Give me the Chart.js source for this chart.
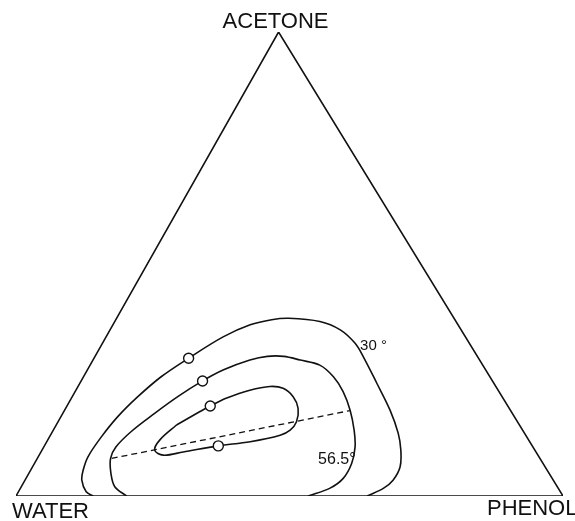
<!DOCTYPE html>
<html>
<head>
<meta charset="utf-8">
<script src="https://cdn.jsdelivr.net/npm/chart.js@4/dist/chart.umd.min.js"></script>
<style>
  body { margin: 0; background: #fff; }
  canvas { display: block; }
</style>
</head>
<body>
<canvas id="diagram" width="575" height="521"></canvas>
<script>
// compositions in %, as [acetone, phenol]; water is whatever is left
var curve30 = [
  [0, 14.1], [0.9, 12.4], [3.4, 10.4], [5.6, 9.6], [8.5, 9.1], [12.8, 9.5], [17.1, 10.4],
  [21.4, 12.0], [25.7, 14.2], [29.7, 17.3], [34.3, 21.4], [36.9, 25.1], [38.0, 28.5],
  [38.3, 31.5], [37.6, 37.5], [35.8, 42.1], [32.9, 46.2], [30.0, 49.1], [24.3, 54.3],
  [18.5, 59.5], [13.5, 63.4], [9.9, 65.6], [6.3, 67.2], [3.4, 67.3], [1.7, 66.4], [0, 64.2]
];
var curve565 = [
  [0, 20.2], [2.0, 17.1], [4.9, 15.0], [8.1, 13.4], [10.6, 13.2], [13.9, 14.4], [17.8, 16.8],
  [21.4, 19.3], [24.8, 22.2], [27.2, 24.9], [29.3, 28.7], [30.1, 31.5], [30.1, 34.5],
  [29.3, 37.9], [28.2, 42.0], [25.7, 45.7], [22.5, 49.0], [18.5, 52.2], [14.2, 55.0],
  [10.6, 56.9], [7.0, 58.0], [3.8, 58.0], [1.7, 56.6], [0, 53.4]
];
// closed loop, starts and ends on the upper straight side
var curveInner = [
  [15.3, 22.0], [18.2, 24.9], [19.4, 26.2], [21.1, 28.4], [22.8, 31.8], [23.6, 35.1],
  [23.2, 37.7], [21.4, 40.4], [18.9, 42.5], [16.0, 43.6], [14.2, 43.3], [13.1, 42.0],
  [11.7, 37.2], [10.8, 31.8], [9.5, 26.0], [8.8, 22.7], [9.9, 20.6], [12.1, 20.5], [15.3, 22.0]
];
var measured = [[29.7, 17.3], [24.8, 22.2], [19.4, 26.2], [10.8, 31.8]];
var tieLine = [[8.1, 13.6], [18.4, 52.2]];
var components = ['ACETONE', 'WATER', 'PHENOL'];
var tempLabels = ['30 °', '56.5°'];

// acetone corner sits a bit left of the middle of the base
var APEX_X = 48;

function toPlot(c) {
  return { x: c[1] + c[0] * APEX_X / 100, y: c[0] };
}
function toPoints(list) {
  return list.map(toPlot);
}

var triangle = toPoints([[0, 0], [0, 100], [100, 0], [0, 0]]);

function curveSet(list) {
  return {
    data: toPoints(list),
    showLine: true,
    borderColor: '#111',
    borderWidth: 1.6,
    pointRadius: 0,
    tension: 0.35,
    fill: false
  };
}

var labels = {
  id: 'labels',
  afterDatasetsDraw: function (chart) {
    var ctx = chart.ctx;
    var sx = chart.scales.x, sy = chart.scales.y;
    function px(c) {
      var p = toPlot(c);
      return [sx.getPixelForValue(p.x), sy.getPixelForValue(p.y)];
    }
    ctx.save();
    ctx.fillStyle = '#111';
    ctx.textBaseline = 'alphabetic';

    ctx.font = '22px "Liberation Sans", Arial, sans-serif';
    var a = px([100, 0]);
    ctx.textAlign = 'center';
    ctx.fillText(components[0], a[0] - 3, a[1] - 4);
    var w = px([0, 0]);
    ctx.textAlign = 'left';
    ctx.fillText(components[1], w[0] - 4, w[1] + 22);
    var p = px([0, 100]);
    ctx.fillText(components[2], p[0] - 76, p[1] + 19);

    ctx.font = '15px "Liberation Sans", Arial, sans-serif';
    var t1 = px(curve30[16]);
    ctx.textAlign = 'left';
    ctx.fillText(tempLabels[0], t1[0] + 5, t1[1] + 7);
    ctx.font = '16px "Liberation Sans", Arial, sans-serif';
    var t2 = px(curve565[20]);
    ctx.textAlign = 'right';
    ctx.fillText(tempLabels[1], t2[0] + 4, t2[1]);
    ctx.restore();
  }
};

new Chart(document.getElementById('diagram'), {
  type: 'scatter',
  data: {
    datasets: [
      // listed first so the open circles sit on top of the curves
      {
        data: toPoints(measured),
        showLine: false,
        pointRadius: 5,
        pointBackgroundColor: '#fff',
        pointBorderColor: '#111',
        pointBorderWidth: 1.4
      },
      {
        data: triangle,
        showLine: true,
        borderColor: '#111',
        borderWidth: 1.6,
        pointRadius: 0,
        tension: 0
      },
      curveSet(curve30),
      curveSet(curve565),
      curveSet(curveInner),
      {
        data: toPoints(tieLine),
        showLine: true,
        borderColor: '#111',
        borderWidth: 1.3,
        borderDash: [6, 4],
        pointRadius: 0
      }
    ]
  },
  options: {
    responsive: false,
    animation: false,
    layout: { padding: { left: 16, right: 12, top: 32, bottom: 25 } },
    scales: {
      x: { display: false, min: 0, max: 100 },
      y: { display: false, min: 0, max: 100 }
    },
    plugins: {
      legend: { display: false },
      tooltip: { enabled: false }
    }
  },
  plugins: [labels]
});
</script>
</body>
</html>
